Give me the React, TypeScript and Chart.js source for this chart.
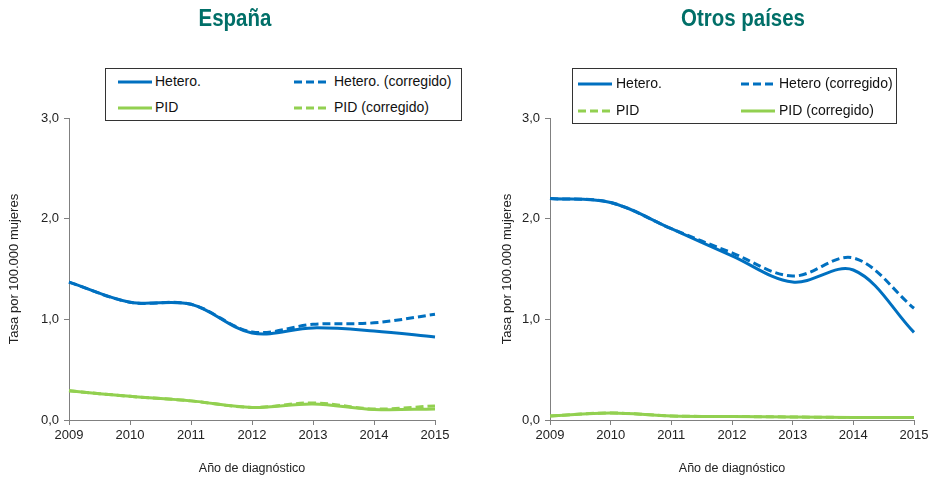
import React, { useEffect, useRef } from "react";
import { Chart, registerables } from "chart.js";

Chart.register(...registerables);

const years = ["2009", "2010", "2011", "2012", "2013", "2014", "2015"];
const yTicks = [0, 1, 2, 3];

const espHetero = [1.37, 1.17, 1.15, 0.865, 0.915, 0.885, 0.825];
const espHeteroCorr = [1.37, 1.17, 1.15, 0.875, 0.95, 0.965, 1.05];
const espPID = [0.29, 0.235, 0.19, 0.125, 0.16, 0.105, 0.11];
const espPIDCorr = [0.29, 0.235, 0.19, 0.125, 0.17, 0.11, 0.14];

const otrHetero = [2.2, 2.16, 1.9, 1.63, 1.37, 1.49, 0.87];
const otrHeteroCorr = [2.2, 2.16, 1.9, 1.66, 1.43, 1.61, 1.11];
const otrPID = [0.04, 0.07, 0.04, 0.035, 0.03, 0.025, 0.025];
const otrPIDCorr = [0.04, 0.07, 0.04, 0.035, 0.03, 0.025, 0.025];

const BLUE = "#0070C0";
const GREEN = "#92D050";
const AXIS = "#808080";
const FONT = "'Liberation Sans', Arial, sans-serif";

type DS = { label: string; data: number[]; color: string; dashed: boolean };

function makeChart(
  canvas: HTMLCanvasElement,
  datasets: DS[],
  padLeft: number,
  padRight: number,
  yWidth: number
) {
  return new Chart(canvas, {
    type: "line",
    data: {
      labels: years,
      datasets: datasets.map((d) => ({
        label: d.label,
        data: d.data,
        borderColor: d.color,
        backgroundColor: d.color,
        borderWidth: 3,
        borderDash: d.dashed ? [8, 4] : [],
        pointRadius: 0,
        tension: 0.35,
        fill: false,
      })),
    },
    options: {
      animation: false,
      responsive: false,
      maintainAspectRatio: false,
      layout: { padding: { left: padLeft, right: padRight, top: 118, bottom: 0 } },
      plugins: { legend: { display: false }, title: { display: false }, tooltip: { enabled: false } },
      scales: {
        x: {
          type: "category",
          offset: false,
          grid: { drawOnChartArea: false, drawTicks: true, tickLength: 5, color: AXIS },
          border: { color: AXIS, width: 1 },
          ticks: { color: "#222", font: { family: FONT, size: 13 }, padding: 3, maxRotation: 0, autoSkip: false },
          title: {
            display: true,
            text: "Año de diagnóstico",
            color: "#222",
            font: { family: FONT, size: 12.5 },
            padding: { top: 0, bottom: 7 },
          },
          afterFit: (s: any) => {
            s.height = 63;
            s.paddingLeft = 0;
            s.paddingRight = 0;
          },
        },
        y: {
          min: 0,
          max: 3,
          afterBuildTicks: (s: any) => {
            s.ticks = yTicks.map((v) => ({ value: v }));
          },
          grid: { drawOnChartArea: false, drawTicks: true, tickLength: 5, color: AXIS },
          border: { color: AXIS, width: 1 },
          ticks: {
            color: "#222",
            font: { family: FONT, size: 13 },
            padding: 5,
            callback: (v: any) => Number(v).toFixed(1).replace(".", ","),
          },
          title: {
            display: true,
            text: "Tasa por 100.000 mujeres",
            color: "#222",
            font: { family: FONT, size: 13 },
            padding: { top: 7, bottom: 0 },
          },
          afterFit: (s: any) => {
            s.width = yWidth;
          },
        },
      },
    },
  });
}

function LegendLine({ color, dashed }: { color: string; dashed: boolean }) {
  return (
    <svg width={34} height={4} style={{ display: "block" }}>
      <line
        x1={0}
        y1={2}
        x2={34}
        y2={2}
        stroke={color}
        strokeWidth={3}
        strokeDasharray={dashed ? "8 4" : undefined}
      />
    </svg>
  );
}

type LegItem = { label: string; color: string; dashed: boolean; x: number; y: number; tx: number };

function LegendBox({ left, top, width, height, items }: { left: number; top: number; width: number; height: number; items: LegItem[] }) {
  return (
    <div
      style={{
        position: "absolute",
        left,
        top,
        width,
        height,
        border: "1px solid #333",
        boxSizing: "border-box",
        background: "#fff",
      }}
    >
      {items.map((it, i) => (
        <React.Fragment key={i}>
          <div style={{ position: "absolute", left: it.x - left, top: it.y - top - 2 }}>
            <LegendLine color={it.color} dashed={it.dashed} />
          </div>
          <div
            style={{
              position: "absolute",
              left: it.tx - left,
              top: it.y - top - 10,
              fontFamily: FONT,
              fontSize: 14,
              lineHeight: "18px",
              color: "#111",
              whiteSpace: "nowrap",
            }}
          >
            {it.label}
          </div>
        </React.Fragment>
      ))}
    </div>
  );
}

export default function App() {
  const leftRef = useRef<HTMLCanvasElement>(null);
  const rightRef = useRef<HTMLCanvasElement>(null);

  useEffect(() => {
    document.body.style.margin = "0";
    const c1 = makeChart(
      leftRef.current!,
      [
        { label: "Hetero.", data: espHetero, color: BLUE, dashed: false },
        { label: "Hetero. (corregido)", data: espHeteroCorr, color: BLUE, dashed: true },
        { label: "PID", data: espPID, color: GREEN, dashed: false },
        { label: "PID (corregido)", data: espPIDCorr, color: GREEN, dashed: true },
      ],
      0,
      30,
      69
    );
    const c2 = makeChart(
      rightRef.current!,
      [
        { label: "Hetero.", data: otrHetero, color: BLUE, dashed: false },
        { label: "Hetero (corregido)", data: otrHeteroCorr, color: BLUE, dashed: true },
        { label: "PID", data: otrPID, color: GREEN, dashed: true },
        { label: "PID (corregido)", data: otrPIDCorr, color: GREEN, dashed: false },
      ],
      28,
      16,
      57
    );
    return () => {
      c1.destroy();
      c2.destroy();
    };
  }, []);

  const titleStyle: React.CSSProperties = {
    position: "absolute",
    top: 4,
    fontFamily: "'Liberation Sans', Arial, sans-serif",
    fontWeight: "bold",
    fontSize: 23,
    color: "#006F68",
    textAlign: "center",
    width: 300,
    lineHeight: "28px",
    transform: "scaleX(0.89)",
    transformOrigin: "center",
  };

  return (
    <div style={{ position: "relative", width: 930, height: 483, background: "#fff", overflow: "hidden" }}>
      <canvas ref={leftRef} width={465} height={483} style={{ position: "absolute", left: 0, top: 0 }} />
      <canvas ref={rightRef} width={465} height={483} style={{ position: "absolute", left: 465, top: 0 }} />
      <div style={{ ...titleStyle, left: 235 - 150 }}>España</div>
      <div style={{ ...titleStyle, left: 743 - 150 }}>Otros países</div>
      <LegendBox
        left={105}
        top={68}
        width={357}
        height={53}
        items={[
          { label: "Hetero.", color: BLUE, dashed: false, x: 117, y: 81, tx: 154 },
          { label: "Hetero. (corregido)", color: BLUE, dashed: true, x: 293, y: 81, tx: 333 },
          { label: "PID", color: GREEN, dashed: false, x: 117, y: 107, tx: 154 },
          { label: "PID (corregido)", color: GREEN, dashed: true, x: 293, y: 107, tx: 333 },
        ]}
      />
      <LegendBox
        left={572}
        top={68}
        width={325}
        height={56}
        items={[
          { label: "Hetero.", color: BLUE, dashed: false, x: 577, y: 83, tx: 615 },
          { label: "Hetero (corregido)", color: BLUE, dashed: true, x: 740, y: 83, tx: 778 },
          { label: "PID", color: GREEN, dashed: true, x: 577, y: 110, tx: 615 },
          { label: "PID (corregido)", color: GREEN, dashed: false, x: 740, y: 110, tx: 778 },
        ]}
      />
    </div>
  );
}
